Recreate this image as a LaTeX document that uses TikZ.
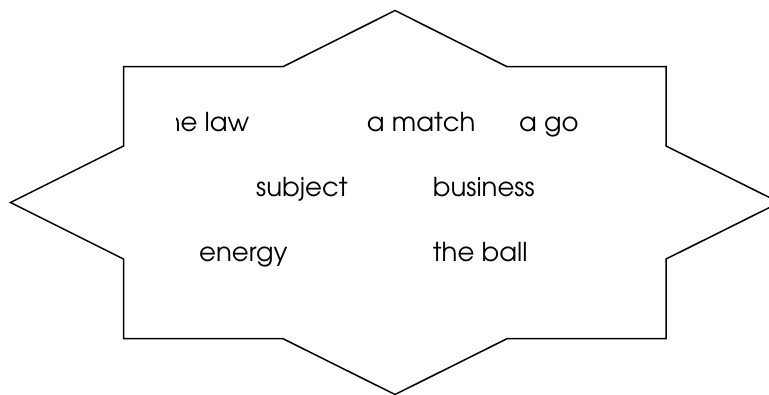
\documentclass[tikz,border=0pt]{standalone}
\usepackage{fontspec}
\setmainfont{TeX Gyre Adventor}
\tikzset{
  starline/.style={draw=black, line width=1.5pt, line join=miter, fill=white},
  word/.style={anchor=base west, inner sep=0pt, font=\fontsize{26}{31}\selectfont, text=black}
}
\begin{document}
\begin{tikzpicture}[x=1pt, y=-1pt]
\useasboundingbox (0,0) rectangle (769,394);
\clip (0,0) rectangle (769,394);
\draw[starline] (395,10.5) -- (507,66.7) -- (666,66.7) -- (666,146) -- (779.5,202.5)
  -- (666,259) -- (666,338.7) -- (507,338.7) -- (395,394.5) -- (283,338.7)
  -- (123.5,338.7) -- (123.5,259) -- (10.5,202.5) -- (123.5,146) -- (123.5,66.7)
  -- (283,66.7) -- cycle;
\begin{scope}
  \clip (176.5,90) rectangle (300,150);
  \node[word, anchor=base east] (law) at (249.5,131.7) {the law};
\end{scope}
\node[word] (match) at (366.7,131.7) {a match};
\node[word] (go) at (519,131.7) {a go};
\node[word] (subject) at (256,196.7) {subject};
\node[word] (business) at (432.7,196.7) {business};
\node[word] (energy) at (199,261.7) {energy};
\node[word] (ball) at (432.7,261.7) {the ball};
\end{tikzpicture}
\end{document}
